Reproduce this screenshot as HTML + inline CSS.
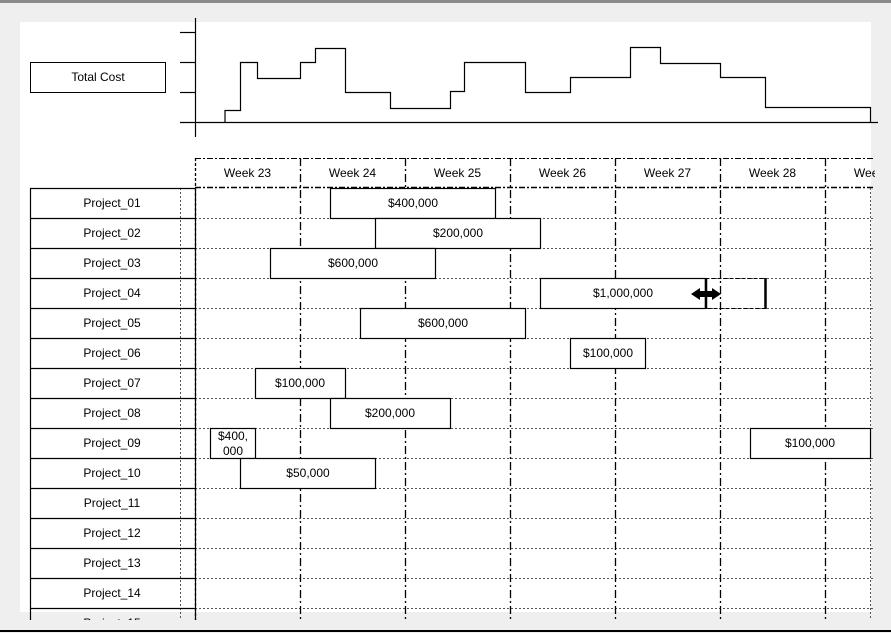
<!DOCTYPE html>
<html><head><meta charset="utf-8"><style>
html,body{margin:0;padding:0;background:#efefef;}
svg{display:block;font-family:"Liberation Sans",Arial,sans-serif;}
</style></head><body>
<svg width="891" height="633" viewBox="0 0 891 633" xmlns="http://www.w3.org/2000/svg">
<rect x="0" y="0" width="891" height="633" fill="#efefef"/>
<rect x="0" y="0" width="891" height="3" fill="#8a8a8a"/>
<rect x="20" y="22" width="851" height="590" fill="#fff"/>
<line x1="0" y1="631" x2="891" y2="631" stroke="#000" stroke-width="2"/>
<!-- chart -->
<rect x="30.5" y="62.5" width="135" height="30" fill="#fff" stroke="#000"/>
<text x="98" y="81" font-size="12" text-anchor="middle">Total Cost</text>
<g stroke="#000" stroke-width="1.2" fill="none">
<line x1="195.5" y1="18" x2="195.5" y2="137"/>
<line x1="180" y1="32.5" x2="195" y2="32.5"/>
<line x1="180" y1="62.5" x2="195" y2="62.5"/>
<line x1="180" y1="92.5" x2="195" y2="92.5"/>
<line x1="180" y1="122.5" x2="878" y2="122.5"/>
<polyline points="225,122.5 225,110.5 240.5,110.5 240.5,62.5 257.5,62.5 257.5,78.5 300.5,78.5 300.5,62.5 315.5,62.5 315.5,48.5 345.5,48.5 345.5,92.5 390.5,92.5 390.5,108.5 450.5,108.5 450.5,91.5 464.5,91.5 464.5,62.5 525.5,62.5 525.5,92.5 570.5,92.5 570.5,77.5 630.5,77.5 630.5,47.5 660.5,47.5 660.5,63.5 720.5,63.5 720.5,77.5 765.5,77.5 765.5,107.5 870.5,107.5 870.5,122.5"/>
</g>
<svg x="0" y="0" width="875" height="620">
<!-- header -->
<g stroke="#000" stroke-width="1" stroke-dasharray="6,2,2,2" fill="none">
<line x1="195" y1="158.5" x2="880" y2="158.5"/>
<line x1="195" y1="187.5" x2="880" y2="187.5" stroke-width="1.5"/>
</g>
<g font-size="12" text-anchor="middle" fill="#000">
<text x="247.5" y="177">Week 23</text><text x="352.5" y="177">Week 24</text><text x="457.5" y="177">Week 25</text>
<text x="562.5" y="177">Week 26</text><text x="667.5" y="177">Week 27</text><text x="772.5" y="177">Week 28</text><text x="877.5" y="177">Week 29</text>
</g>
<!-- row dotted lines -->
<g stroke="#555" stroke-width="1" stroke-dasharray="2,2">
<line x1="195" y1="218.5" x2="875" y2="218.5"/><line x1="195" y1="248.5" x2="875" y2="248.5"/>
<line x1="195" y1="278.5" x2="875" y2="278.5"/><line x1="195" y1="308.5" x2="875" y2="308.5"/>
<line x1="195" y1="338.5" x2="875" y2="338.5"/><line x1="195" y1="368.5" x2="875" y2="368.5"/>
<line x1="195" y1="398.5" x2="875" y2="398.5"/><line x1="195" y1="428.5" x2="875" y2="428.5"/>
<line x1="195" y1="458.5" x2="875" y2="458.5"/><line x1="195" y1="488.5" x2="875" y2="488.5"/>
<line x1="195" y1="518.5" x2="875" y2="518.5"/><line x1="195" y1="548.5" x2="875" y2="548.5"/>
<line x1="195" y1="578.5" x2="875" y2="578.5"/><line x1="195" y1="608.5" x2="875" y2="608.5"/>
<line x1="870.5" y1="188" x2="870.5" y2="620"/>
<line x1="180.5" y1="188" x2="180.5" y2="620"/>
</g>
<g stroke="#000" stroke-width="1.3" stroke-dasharray="8,3,2,3" fill="none">
<line x1="195.5" y1="158" x2="195.5" y2="620" stroke-dasharray="3,2"/>
<line x1="300.5" y1="158" x2="300.5" y2="620"/><line x1="405.5" y1="158" x2="405.5" y2="620"/>
<line x1="510.5" y1="158" x2="510.5" y2="620"/><line x1="615.5" y1="158" x2="615.5" y2="620"/>
<line x1="720.5" y1="158" x2="720.5" y2="620"/><line x1="825.5" y1="158" x2="825.5" y2="620"/>
</g>
<!-- label boxes -->
<g stroke="#000" stroke-width="1.2" fill="none">
<line x1="30.5" y1="188" x2="30.5" y2="620"/>
<line x1="195.5" y1="188" x2="195.5" y2="620"/>
<line x1="30" y1="188.5" x2="195" y2="188.5"/><line x1="30" y1="218.5" x2="195" y2="218.5"/>
<line x1="30" y1="248.5" x2="195" y2="248.5"/><line x1="30" y1="278.5" x2="195" y2="278.5"/>
<line x1="30" y1="308.5" x2="195" y2="308.5"/><line x1="30" y1="338.5" x2="195" y2="338.5"/>
<line x1="30" y1="368.5" x2="195" y2="368.5"/><line x1="30" y1="398.5" x2="195" y2="398.5"/>
<line x1="30" y1="428.5" x2="195" y2="428.5"/><line x1="30" y1="458.5" x2="195" y2="458.5"/>
<line x1="30" y1="488.5" x2="195" y2="488.5"/><line x1="30" y1="518.5" x2="195" y2="518.5"/>
<line x1="30" y1="548.5" x2="195" y2="548.5"/><line x1="30" y1="578.5" x2="195" y2="578.5"/>
<line x1="30" y1="608.5" x2="195" y2="608.5"/>
</g>
<g font-size="12" text-anchor="middle" fill="#000">
<text x="112" y="207">Project_01</text><text x="112" y="237">Project_02</text><text x="112" y="267">Project_03</text>
<text x="112" y="297">Project_04</text><text x="112" y="327">Project_05</text><text x="112" y="357">Project_06</text>
<text x="112" y="387">Project_07</text><text x="112" y="417">Project_08</text><text x="112" y="447">Project_09</text>
<text x="112" y="477">Project_10</text><text x="112" y="507">Project_11</text><text x="112" y="537">Project_12</text>
<text x="112" y="567">Project_13</text><text x="112" y="597">Project_14</text><text x="112" y="627">Project_15</text>
</g>
<!-- bars -->
<g stroke="#000" stroke-width="1.2" fill="#fff">
<rect x="330.5" y="188.5" width="165" height="30"/>
<rect x="375.5" y="218.5" width="165" height="30"/>
<rect x="270.5" y="248.5" width="165" height="30"/>
<rect x="540.5" y="278.5" width="165" height="30"/>
<rect x="360.5" y="308.5" width="165" height="30"/>
<rect x="570.5" y="338.5" width="75" height="30"/>
<rect x="255.5" y="368.5" width="90" height="30"/>
<rect x="330.5" y="398.5" width="120" height="30"/>
<rect x="210.5" y="428.5" width="45" height="30"/>
<rect x="750.5" y="428.5" width="120" height="30"/>
<rect x="240.5" y="458.5" width="135" height="30"/>
</g>
<rect x="705.5" y="278.5" width="60" height="30" fill="none" stroke="#000" stroke-dasharray="4,2"/>
<line x1="706" y1="278" x2="706" y2="309" stroke="#000" stroke-width="2.5"/>
<line x1="765.5" y1="278" x2="765.5" y2="309" stroke="#000" stroke-width="2.5"/>
<polygon points="691,294 700,288 700,291 712,291 712,288 721,294 712,300 712,297 700,297 700,300" fill="#000"/>
<g font-size="12" text-anchor="middle" fill="#000">
<text x="413" y="207">$400,000</text><text x="458" y="237">$200,000</text><text x="353" y="267">$600,000</text>
<text x="623" y="297">$1,000,000</text><text x="443" y="327">$600,000</text><text x="608" y="357">$100,000</text>
<text x="300" y="387">$100,000</text><text x="390" y="417">$200,000</text>
<text x="233" y="440">$400,</text><text x="233" y="455">000</text>
<text x="810" y="447">$100,000</text><text x="308" y="477">$50,000</text>
</g>
</svg>
</svg>
</body></html>
